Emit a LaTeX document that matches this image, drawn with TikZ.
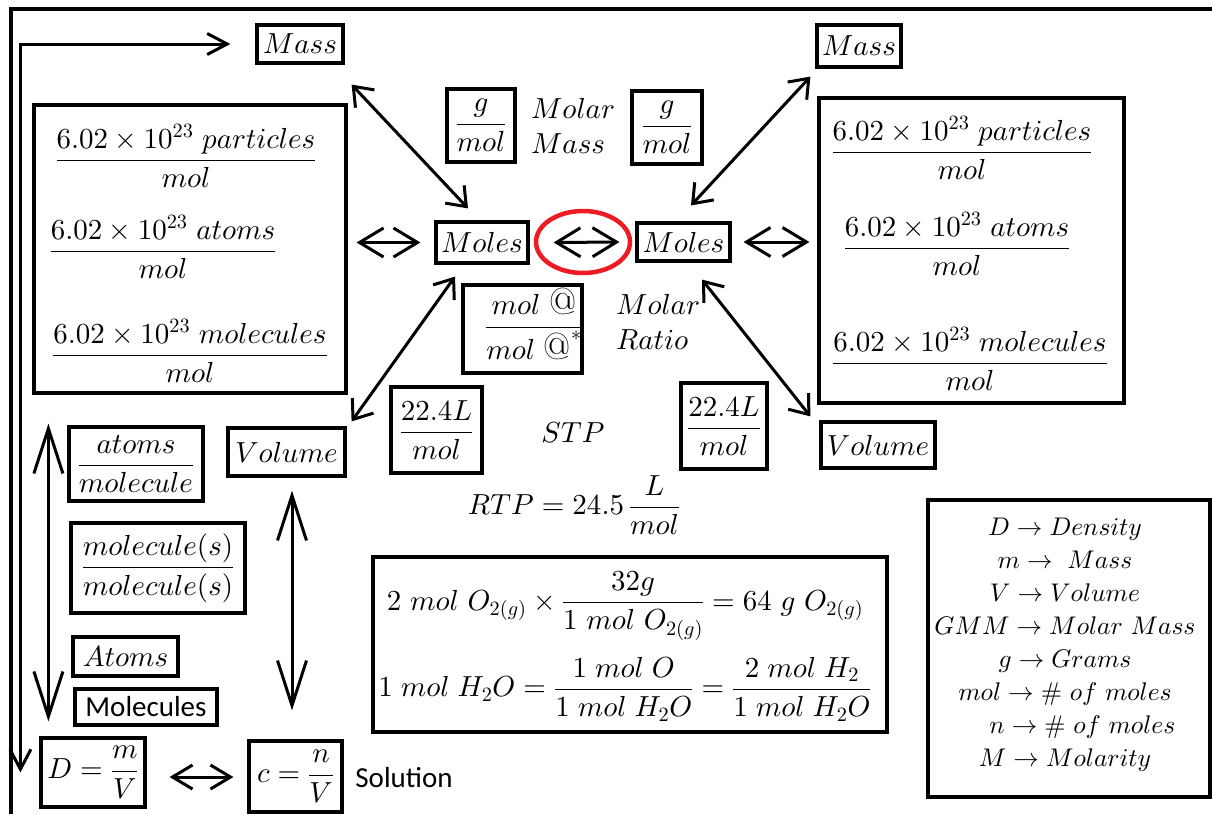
\documentclass[tikz,border=0pt]{standalone}
\usepackage{amsmath}
\usepackage[no-math]{fontspec}
\newfontfamily\calib{Carlito}
\DeclareFontShape{OML}{cmm}{m}{it}{<->cmmi10}{}
\DeclareFontShape{OT1}{cmr}{m}{n}{<->cmr10}{}
\DeclareFontShape{OMS}{cmsy}{m}{n}{<->cmsy10}{}
\DeclareFontShape{OMX}{cmex}{m}{n}{<->cmex10}{}
\usetikzlibrary{arrows.meta,calc}
\definecolor{hlred}{RGB}{237,28,36}
\newcommand{\mf}{\fontsize{29}{35}\selectfont}
\newcommand{\lgf}{\fontsize{25.5}{33}\selectfont}
\newcommand{\cbf}{\calib\fontsize{29}{35}\selectfont}
\newcommand{\bigat}{\text{\scalebox{1.3}{@}}}
\tikzset{
  bx/.style={draw, line width=3.2pt, inner sep=0pt, font=\mf},
  tx/.style={inner sep=0pt, font=\mf},
  ln/.style={line width=3pt},
  dA/.style={ln, {Straight Barb[length=17pt,width=26pt]}-{Straight Barb[length=17pt,width=26pt]}},
  sA/.style={ln, {Straight Barb[length=24pt,width=29pt]}-{Straight Barb[length=24pt,width=29pt]}},
  cA/.style={ln, {Straight Barb[length=20pt,width=24pt]}-{Straight Barb[length=20pt,width=24pt]}},
  vA/.style={ln, {Straight Barb[length=45pt,width=29pt]}-{Straight Barb[length=45pt,width=29pt]}},
  lA/.style={ln, {Straight Barb[length=20pt,width=21pt]}-{Straight Barb[length=20pt,width=21pt]}}
}
\begin{document}
\begin{tikzpicture}[x=1pt,y=-1pt]
\useasboundingbox (0,0) rectangle (1212,814);
% outer frame
\draw[line width=3.2pt] (1212,9) -- (11,9) -- (11,814);

% top row
\node[bx, minimum width=86, minimum height=38] (massL) at (300,44) {$Mass$};
\node[bx, minimum width=84, minimum height=42] (massR) at (859,46) {$Mass$};

% left big box
\node[bx, minimum width=312, minimum height=288] (lbox) at (190,249) {};
\node[tx] (lf1) at (186,156) {$\dfrac{6.02\times10^{23}\ particles}{mol}$};
\node[tx] (lf2) at (163,247) {$\dfrac{6.02\times10^{23}\ atoms}{mol}$};
\node[tx] (lf3) at (190,351) {$\dfrac{6.02\times10^{23}\ molecules}{mol}$};

% right big box
\node[bx, minimum width=305, minimum height=305] (rbox) at (971.5,250.5) {};
\node[tx] (rf1) at (962,148) {$\dfrac{6.02\times10^{23}\ particles}{mol}$};
\node[tx] (rf2) at (957,244) {$\dfrac{6.02\times10^{23}\ atoms}{mol}$};
\node[tx] (rf3) at (970,359) {$\dfrac{6.02\times10^{23}\ molecules}{mol}$};

% moles
\node[bx, minimum width=92, minimum height=41] (molesL) at (482,242.5) {$Moles$};
\node[bx, minimum width=93, minimum height=38] (molesR) at (683.5,242) {$Moles$};

% molar mass
\node[bx, minimum width=68, minimum height=73] (gmolL) at (481,125.5) {$\dfrac{g}{mol}$};
\node[bx, minimum width=70, minimum height=73] (gmolR) at (667,127.5) {$\dfrac{g}{mol}$};
\node[tx, align=left, anchor=west] (mm) at (531,126) {$Molar$\\$Mass$};

% molar ratio
\node[bx, minimum width=119, minimum height=88] (ratio) at (522.5,329) {};
\node[tx] (ratiof) at (534,324) {$\dfrac{mol\ \bigat}{mol\ \bigat^{*}}$};
\node[tx, align=left, anchor=west] (mr) at (616,322) {$Molar$\\$Ratio$};

% STP / RTP
\node[bx, minimum width=91, minimum height=86] (l224) at (436.5,430) {$\dfrac{22.4L}{mol}$};
\node[bx, minimum width=86, minimum height=86] (r224) at (724,426) {$\dfrac{22.4L}{mol}$};
\node[tx] (stp) at (573,433) {$STP$};
\node[tx] (rtp) at (574,505) {$RTP=24.5\,\dfrac{L}{mol}$};

% volumes
\node[bx, minimum width=117, minimum height=48] (volL) at (286.5,452) {$Volume$};
\node[bx, minimum width=114, minimum height=46] (volR) at (878,445) {$Volume$};

% equation box
\node[bx, minimum width=514, minimum height=175] (eqbox) at (630,644.5) {};
\node[tx] (eq1) at (625,606) {$2\ mol\ O_{2(g)}\times\dfrac{32g}{1\ mol\ O_{2(g)}}=64\ g\ O_{2(g)}$};
\node[tx] (eq2) at (625,689) {$1\;mol\;H_2O=\dfrac{1\;mol\;O}{1\;mol\;H_2O}=\dfrac{2\;mol\;H_2}{1\;mol\;H_2O}$};

% legend
\node[bx, minimum width=282, minimum height=297] (legend) at (1069,648.5) {};
\node[tx, font=\lgf, align=center] (legtxt) at (1065,645) {$D\rightarrow Density$\\
$m\rightarrow\ Mass$\\
$V\rightarrow Volume$\\
$GMM\rightarrow Molar\ Mass$\\
$g\rightarrow Grams$\\
$mol\rightarrow\#\ of\ moles$\\
$\hphantom{mo}n\rightarrow\#\ of\ moles$\\
$M\rightarrow Molarity$};

% left column
\node[bx, minimum width=134, minimum height=74] (atmol) at (136,464) {$\dfrac{atoms}{molecule}$};
\node[bx, minimum width=174, minimum height=90] (molmol) at (158,568) {$\dfrac{molecule(s)}{molecule(s)}$};
\node[bx, minimum width=105, minimum height=39] (atoms) at (125.5,656.5) {$Atoms$};
\node[bx, minimum width=142, minimum height=36, font=\cbf] (molec) at (146,707) {Molecules};
\node[bx, minimum width=104, minimum height=69] (dens) at (93,772.5) {$D=\dfrac{m}{V}$};
\node[bx, minimum width=93, minimum height=71] (conc) at (295.5,776.5) {$c=\dfrac{n}{V}$};
\node[inner sep=0pt, font=\cbf] (sol) at (404,778) {Solution};

% connectors
\draw[lA] ($(dens.west)+(-19,0)$) |- ($(massL.west)+(-25,0)$);
\draw[sA] ($(lbox.east|-molesL.west)+(9,0)$) -- ($(molesL.west)+(-14,0)$);
\draw[sA] ($(molesL.east)+(24,0)$) -- ($(molesR.west)+(-16,0)$);
\draw[hlred, line width=4.5pt] (583,242) ellipse [x radius=47pt, y radius=31pt];
\draw[sA] ($(molesR.east)+(12,0)$) -- ($(rbox.west|-molesR.east)+(-8,0)$);
\draw[dA] ($(massL.south east)+(7,20)$) -- ($(molesL.north)+(-14,-12)$);
\draw[dA] ($(massR.south west)+(-5,8)$) -- ($(molesR.north)+(7.5,-16)$);
\draw[dA] ($(molesL.south)+(-27,12)$) -- ($(volL.north east)+(5,-5)$);
\draw[dA] ($(molesR.south)+(18.5,17)$) -- ($(volR.north west)+(-9,-4)$);
\draw[vA] ($(lbox.south west)+(16,29)$) -- ($(dens.north west)+(9,-15)$);
\draw[vA] ($(volL.south)+(5.5,13)$) -- ($(conc.north)+(-3.5,-29)$);
\draw[cA] ($(dens.east)+(23,4.5)$) -- ($(conc.west)+(-14,0.5)$);
\end{tikzpicture}
\end{document}
